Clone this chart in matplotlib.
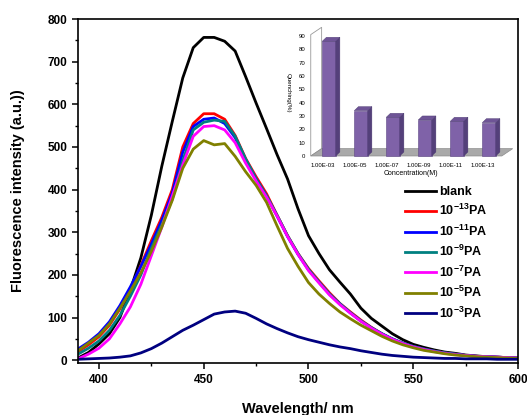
import numpy as np
import matplotlib
matplotlib.use("Agg")
import matplotlib.pyplot as plt
from matplotlib.patches import Polygon
from matplotlib.ticker import MultipleLocator

plt.rcParams['font.family'] = 'Liberation Sans'
plt.rcParams['font.weight'] = 'bold'
plt.rcParams['mathtext.fontset'] = 'custom'
plt.rcParams['mathtext.rm'] = 'Liberation Sans:bold'
plt.rcParams['mathtext.bf'] = 'Liberation Sans:bold'
plt.rcParams['mathtext.default'] = 'bf'

# ---- data ----
wavelength = np.arange(390, 601, 5)

blank = [5, 18, 38, 62, 100, 165, 240, 340, 455, 560, 662, 733, 757, 757, 748, 725,
         665, 603, 543, 482, 425, 355, 292, 250, 212, 183, 155, 122, 98, 80, 62, 48,
         37, 30, 24, 19, 16, 12, 10, 8, 7, 6, 5]
pa_13 = [20, 36, 55, 82, 120, 165, 222, 280, 335, 400, 500, 555, 578, 578, 565, 527,
         473, 430, 390, 340, 292, 250, 215, 186, 158, 133, 113, 94, 77, 62, 49, 39,
         32, 26, 21, 17, 14, 11, 9, 8, 7, 6, 5]
pa_11 = [26, 42, 62, 90, 128, 172, 220, 272, 328, 392, 488, 548, 565, 568, 555, 522,
         470, 425, 385, 338, 290, 248, 212, 183, 155, 132, 111, 92, 76, 62, 50, 40,
         32, 26, 21, 17, 14, 11, 9, 8, 7, 6, 5]
pa_9 = [14, 28, 45, 70, 105, 150, 200, 262, 318, 378, 468, 540, 558, 563, 560, 525,
        472, 425, 385, 340, 292, 250, 213, 183, 155, 132, 111, 92, 76, 62, 50, 40,
        32, 26, 21, 17, 14, 11, 9, 8, 7, 6, 5]
pa_7 = [3, 14, 28, 50, 85, 125, 178, 245, 312, 385, 458, 525, 548, 550, 540, 510,
        462, 420, 382, 338, 290, 248, 210, 181, 153, 130, 110, 91, 75, 61, 49, 39,
        31, 25, 20, 16, 13, 11, 9, 8, 7, 6, 5]
pa_5 = [22, 40, 58, 85, 122, 162, 205, 255, 312, 375, 450, 495, 515, 505, 508, 478,
        442, 410, 370, 315, 262, 220, 182, 155, 133, 113, 97, 82, 69, 56, 45, 36,
        29, 23, 19, 15, 12, 10, 8, 7, 6, 5, 4]
pa_3 = [2, 3, 4, 5, 7, 10, 17, 27, 40, 55, 70, 82, 95, 108, 113, 115,
        110, 98, 85, 74, 64, 55, 48, 42, 36, 31, 27, 22, 18, 14, 11, 9,
        7, 6, 5, 4, 4, 3, 3, 3, 2, 2, 2]

labels = ['blank', r'10$^{-13}$PA', r'10$^{-11}$PA', r'10$^{-9}$PA',
          r'10$^{-7}$PA', r'10$^{-5}$PA', r'10$^{-3}$PA']
colors = ['black', '#ff0000', '#0000ff', '#008080', '#ff00ff', '#808000', '#000080']

# inset bar data
conc = ['1.00E-03', '1.00E-05', '1.00E-07', '1.00E-09', '1.00E-11', '1.00E-13']
quench = [86, 34, 29, 27, 26, 25]

fig = plt.figure(figsize=(5.27, 4.15), dpi=100)
ax = fig.add_axes([0.148, 0.125, 0.835, 0.829])

for y, lab, c in zip([blank, pa_13, pa_11, pa_9, pa_7, pa_5, pa_3], labels, colors):
    ax.plot(wavelength, y, color=c, lw=2, label=lab)

ax.set_xlim(390, 600)
ax.set_ylim(-7, 800)
ax.xaxis.set_major_locator(MultipleLocator(50))
ax.xaxis.set_minor_locator(MultipleLocator(25))
ax.yaxis.set_major_locator(MultipleLocator(100))
ax.yaxis.set_minor_locator(MultipleLocator(50))
ax.tick_params(which='major', direction='out', length=4, width=1.1, labelsize=8.5)
ax.tick_params(which='minor', direction='out', length=2.5, width=1.0)
for s in ax.spines.values():
    s.set_linewidth(1.2)
ax.set_xlabel('Wavelength/ nm', fontsize=10.5, fontweight='bold', labelpad=12)
ax.set_ylabel('Fluorescence intensity (a.u.))', fontsize=10.5, fontweight='bold', labelpad=16)

fig.legend(loc='upper left', bbox_to_anchor=(405 / 527, 1 - 186 / 415), frameon=False,
           fontsize=9, handlelength=2.5, handletextpad=0.25, labelspacing=0.42,
           borderpad=0, borderaxespad=0)

# ---- inset: pseudo 3D bar chart ----
ax2 = fig.add_axes([0.5848, 0.6145, 0.3917, 0.3246])
ax2.set_xlim(-0.65, 5.8)
ax2.set_ylim(-3, 98)
ax2.set_facecolor('none')
for s in ax2.spines.values():
    s.set_visible(False)

n = len(quench)
ymax = 90
x0, x1 = -0.57, n - 0.6
fdx, fdy = 0.34, 5.5
ax2.add_patch(Polygon([(x0, 0), (x0, ymax + 1), (x0 + fdx, ymax + 1 + fdy), (x0 + fdx, fdy)],
                      closed=True, facecolor='white', edgecolor='#999999', lw=0.6))
ax2.add_patch(Polygon([(x0, 0), (x1, 0), (x1 + fdx, fdy), (x0 + fdx, fdy)],
                      closed=True, facecolor='#a9a9a9', edgecolor='#8c8c8c', lw=0.5))

pos = np.arange(n)
w = 0.42
bdx, bdy = 0.13, 3.0
ax2.bar(pos, quench, width=w, color='#7f62a8', edgecolor='#5e4785', lw=0.4, zorder=3)
for p, v in zip(pos, quench):
    xr = p + w / 2
    xl = p - w / 2
    ax2.add_patch(Polygon([(xr, 0), (xr, v), (xr + bdx, v + bdy), (xr + bdx, bdy)],
                          closed=True, facecolor='#54407a', edgecolor='#4a3870', lw=0.3, zorder=3))
    ax2.add_patch(Polygon([(xl, v), (xr, v), (xr + bdx, v + bdy), (xl + bdx, v + bdy)],
                          closed=True, facecolor='#6e5496', edgecolor='#4a3870', lw=0.3, zorder=3))

ax2.set_yticks(np.arange(0, 91, 10))
ax2.set_xticks(pos - 0.19)
ax2.set_xticklabels(conc)
ax2.tick_params(axis='both', length=0, labelsize=4.3, pad=2)
for t in ax2.get_xticklabels() + ax2.get_yticklabels():
    t.set_fontweight('normal')
ax2.set_xlabel('Concentration(M)', fontsize=5, fontweight='normal', labelpad=1.5)
ax2.set_ylabel('Quenching(%)', fontsize=4.5, fontweight='normal', rotation=270, va='center')
ax2.yaxis.set_label_coords(-0.098, 0.5)

fig.savefig('out.png', dpi=100)
